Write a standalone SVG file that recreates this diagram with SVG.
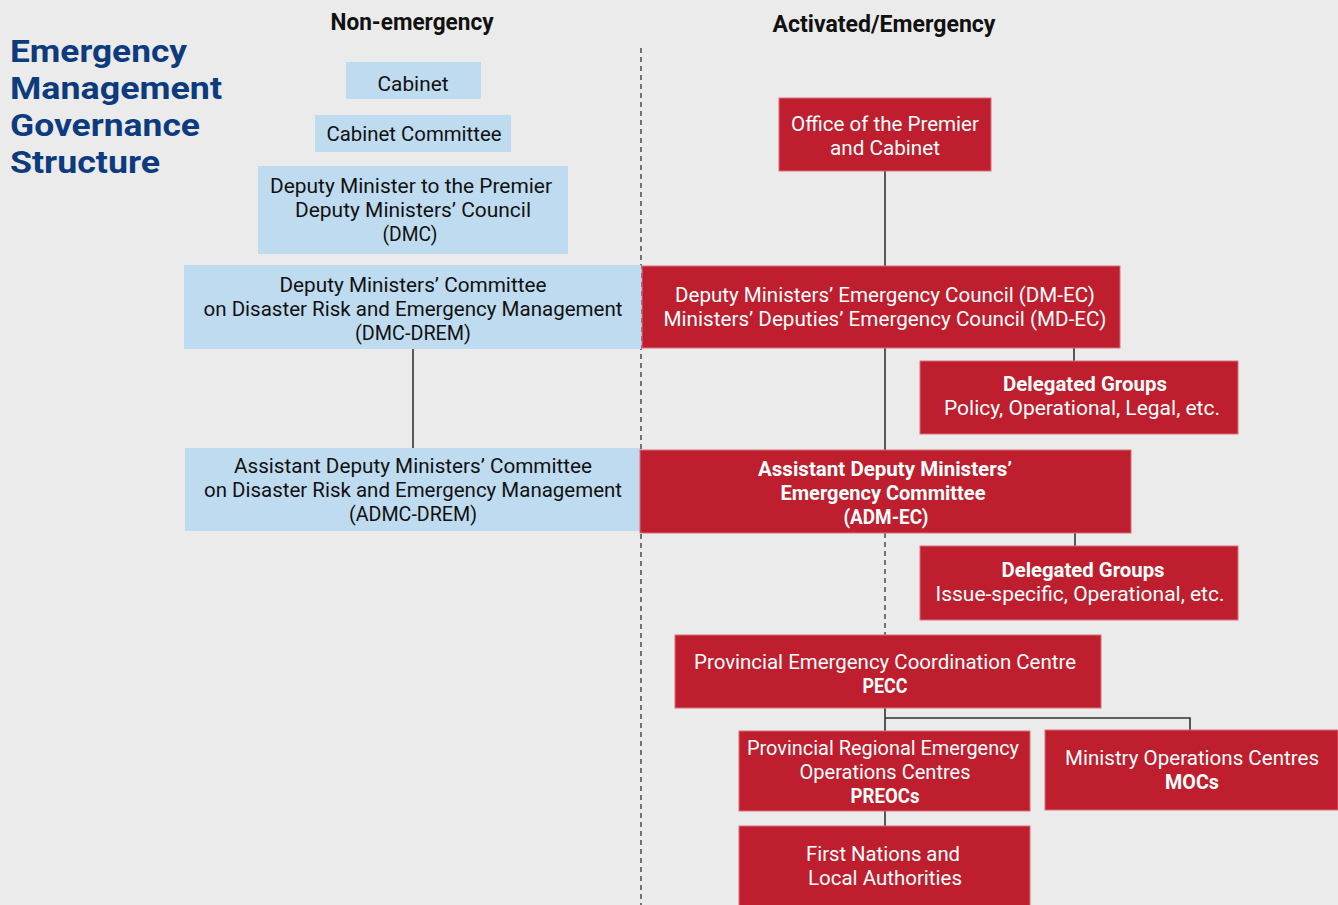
<svg xmlns="http://www.w3.org/2000/svg" width="1338" height="905" viewBox="0 0 1338 905">
  <style>
    .bg { fill: #ebebeb; }
    .blue { fill: #bfdbef; }
    .red { fill: #be1e2d; stroke: #d7707a; stroke-width: 1; }
    .t { font-family: Roboto, "Liberation Sans", sans-serif; font-size: 20px; text-anchor: middle; }
    .dark { fill: #111111; }
    .light { fill: #ffffff; }
    .b { font-weight: bold; }
    .hdr { font-family: Roboto, "Liberation Sans", sans-serif; font-size: 23px; font-weight: bold; fill: #111111; text-anchor: middle; }
    .title { font-family: Roboto, "Liberation Sans", sans-serif; font-size: 31px; font-weight: bold; fill: #0d3b7d; }
    .link { stroke: #333333; stroke-width: 1.6; fill: none; }
    .dash { stroke: #555555; stroke-width: 1.6; stroke-dasharray: 5 4; fill: none; }
  </style>

  <rect class="bg" x="0" y="0" width="1338" height="905"/>

  <!-- Title and column headings -->
  <g id="title">
    <text class="title" x="10" y="62" textLength="177" lengthAdjust="spacingAndGlyphs">Emergency</text>
    <text class="title" x="10" y="99" textLength="212" lengthAdjust="spacingAndGlyphs">Management</text>
    <text class="title" x="10" y="136" textLength="190" lengthAdjust="spacingAndGlyphs">Governance</text>
    <text class="title" x="10" y="173" textLength="150" lengthAdjust="spacingAndGlyphs">Structure</text>
  </g>
  <g id="headings">
    <text class="hdr" x="412" y="30" textLength="163" lengthAdjust="spacingAndGlyphs">Non-emergency</text>
    <text class="hdr" x="884" y="32" textLength="223" lengthAdjust="spacingAndGlyphs">Activated/Emergency</text>
  </g>

  <!-- Connectors -->
  <g id="connectors">
    <line class="dash" x1="641" y1="48" x2="641" y2="905"/>
    <line class="link" x1="413" y1="349" x2="413" y2="448"/>
    <line class="link" x1="885" y1="171" x2="885" y2="266"/>
    <line class="link" x1="885" y1="348" x2="885" y2="450"/>
    <line class="link" x1="1074" y1="348" x2="1074" y2="361"/>
    <line class="dash" x1="885" y1="533" x2="885" y2="635"/>
    <line class="link" x1="1075" y1="533" x2="1075" y2="546"/>
    <path class="link" d="M885 708 V731 M885 718 H1190 V730"/>
    <line class="link" x1="885" y1="811" x2="885" y2="826"/>
  </g>

  <!-- Non-emergency column -->
  <g id="cabinet">
    <rect class="blue" x="346" y="62" width="135" height="37"/>
    <text class="t dark" x="413" y="91" textLength="71" lengthAdjust="spacingAndGlyphs">Cabinet</text>
  </g>
  <g id="cabinet-committee">
    <rect class="blue" x="315" y="115" width="196" height="37"/>
    <text class="t dark" x="414" y="141" textLength="175" lengthAdjust="spacingAndGlyphs">Cabinet Committee</text>
  </g>
  <g id="dmc">
    <rect class="blue" x="258" y="166" width="310" height="88"/>
    <text class="t dark" x="411" y="193" textLength="282" lengthAdjust="spacingAndGlyphs">Deputy Minister to the Premier</text>
    <text class="t dark" x="413" y="217" textLength="236" lengthAdjust="spacingAndGlyphs">Deputy Ministers’ Council</text>
    <text class="t dark" x="410" y="241" textLength="55" lengthAdjust="spacingAndGlyphs">(DMC)</text>
  </g>
  <g id="dmc-drem">
    <rect class="blue" x="184" y="265" width="457" height="84"/>
    <text class="t dark" x="413" y="292" textLength="267" lengthAdjust="spacingAndGlyphs">Deputy Ministers’ Committee</text>
    <text class="t dark" x="413" y="316" textLength="419" lengthAdjust="spacingAndGlyphs">on Disaster Risk and Emergency Management</text>
    <text class="t dark" x="413" y="340" textLength="116" lengthAdjust="spacingAndGlyphs">(DMC-DREM)</text>
  </g>
  <g id="admc-drem">
    <rect class="blue" x="185" y="448" width="455" height="83"/>
    <text class="t dark" x="413" y="473" textLength="358" lengthAdjust="spacingAndGlyphs">Assistant Deputy Ministers’ Committee</text>
    <text class="t dark" x="413" y="497" textLength="418" lengthAdjust="spacingAndGlyphs">on Disaster Risk and Emergency Management</text>
    <text class="t dark" x="413" y="521" textLength="128" lengthAdjust="spacingAndGlyphs">(ADMC-DREM)</text>
  </g>

  <!-- Activated / emergency column -->
  <g id="premier-office">
    <rect class="red" x="779" y="98" width="212" height="73"/>
    <text class="t light" x="885" y="131" textLength="188" lengthAdjust="spacingAndGlyphs">Office of the Premier</text>
    <text class="t light" x="885" y="155" textLength="110" lengthAdjust="spacingAndGlyphs">and Cabinet</text>
  </g>
  <g id="dm-ec">
    <rect class="red" x="642" y="266" width="478" height="82"/>
    <text class="t light" x="885" y="302" textLength="420" lengthAdjust="spacingAndGlyphs">Deputy Ministers’ Emergency Council (DM-EC)</text>
    <text class="t light" x="885" y="326" textLength="443" lengthAdjust="spacingAndGlyphs">Ministers’ Deputies’ Emergency Council (MD-EC)</text>
  </g>
  <g id="delegated-groups-1">
    <rect class="red" x="920" y="361" width="318" height="73"/>
    <text class="t light b" x="1085" y="391" textLength="164" lengthAdjust="spacingAndGlyphs">Delegated Groups</text>
    <text class="t light" x="1082" y="415" textLength="276" lengthAdjust="spacingAndGlyphs">Policy, Operational, Legal, etc.</text>
  </g>
  <g id="adm-ec">
    <rect class="red" x="640" y="450" width="491" height="83"/>
    <text class="t light b" x="885" y="476" textLength="254" lengthAdjust="spacingAndGlyphs">Assistant Deputy Ministers’</text>
    <text class="t light b" x="883" y="500" textLength="205" lengthAdjust="spacingAndGlyphs">Emergency Committee</text>
    <text class="t light b" x="886" y="524" textLength="85" lengthAdjust="spacingAndGlyphs">(ADM-EC)</text>
  </g>
  <g id="delegated-groups-2">
    <rect class="red" x="920" y="546" width="318" height="74"/>
    <text class="t light b" x="1083" y="577" textLength="163" lengthAdjust="spacingAndGlyphs">Delegated Groups</text>
    <text class="t light" x="1080" y="601" textLength="289" lengthAdjust="spacingAndGlyphs">Issue-specific, Operational, etc.</text>
  </g>
  <g id="pecc">
    <rect class="red" x="675" y="635" width="426" height="73"/>
    <text class="t light" x="885" y="669" textLength="382" lengthAdjust="spacingAndGlyphs">Provincial Emergency Coordination Centre</text>
    <text class="t light b" x="885" y="693" textLength="45" lengthAdjust="spacingAndGlyphs">PECC</text>
  </g>
  <g id="preocs">
    <rect class="red" x="739" y="731" width="291" height="80"/>
    <text class="t light" x="883" y="755" textLength="272" lengthAdjust="spacingAndGlyphs">Provincial Regional Emergency</text>
    <text class="t light" x="885" y="779" textLength="171" lengthAdjust="spacingAndGlyphs">Operations Centres</text>
    <text class="t light b" x="885" y="803" textLength="69" lengthAdjust="spacingAndGlyphs">PREOCs</text>
  </g>
  <g id="mocs">
    <rect class="red" x="1045" y="730" width="293" height="80"/>
    <text class="t light" x="1192" y="765" textLength="254" lengthAdjust="spacingAndGlyphs">Ministry Operations Centres</text>
    <text class="t light b" x="1192" y="789" textLength="54" lengthAdjust="spacingAndGlyphs">MOCs</text>
  </g>
  <g id="first-nations">
    <rect class="red" x="739" y="826" width="291" height="80"/>
    <text class="t light" x="883" y="861" textLength="154" lengthAdjust="spacingAndGlyphs">First Nations and</text>
    <text class="t light" x="885" y="885" textLength="154" lengthAdjust="spacingAndGlyphs">Local Authorities</text>
  </g>
</svg>
